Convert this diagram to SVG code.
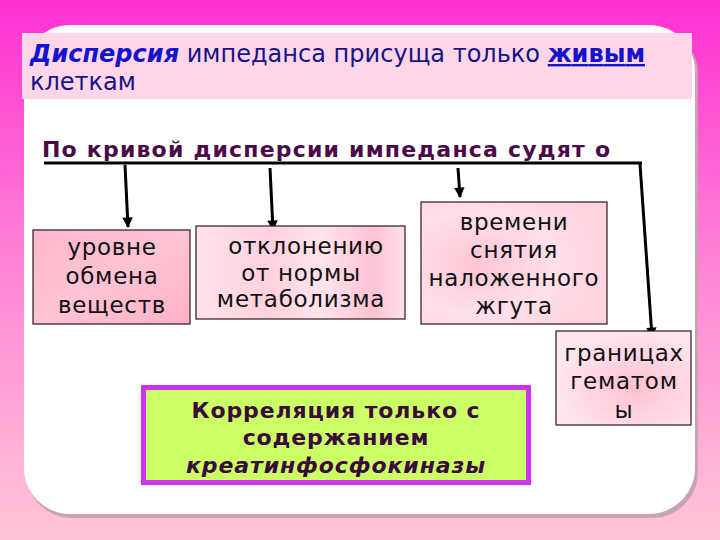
<svg xmlns="http://www.w3.org/2000/svg" width="720" height="540" viewBox="0 0 720 540">
<defs>
<linearGradient id="bg" x1="0" y1="0" x2="0" y2="1">
<stop offset="0" stop-color="#ff2fd2"/>
<stop offset="0.45" stop-color="#ff7ed6"/>
<stop offset="1" stop-color="#ffc6d6"/>
</linearGradient>
<linearGradient id="pk1" x1="0" y1="0" x2="1" y2="1">
<stop offset="0" stop-color="#ffb6ca"/>
<stop offset="0.5" stop-color="#ffc4d4"/>
<stop offset="1" stop-color="#ffb0c6"/>
</linearGradient>
<linearGradient id="pk2" x1="0" y1="0" x2="1" y2="0">
<stop offset="0" stop-color="#ffe2ea"/>
<stop offset="0.35" stop-color="#ffd0de"/>
<stop offset="0.6" stop-color="#ffe4ec"/>
<stop offset="0.85" stop-color="#ffc2d4"/>
<stop offset="1" stop-color="#ffe0ea"/>
</linearGradient>
<radialGradient id="pk3" cx="0.3" cy="0.5" r="0.7">
<stop offset="0" stop-color="#ffc4d4"/>
<stop offset="0.6" stop-color="#ffe0ea"/>
<stop offset="1" stop-color="#ffd2de"/>
</radialGradient>
<radialGradient id="pk4" cx="0.6" cy="0.6" r="0.6">
<stop offset="0" stop-color="#ffc0d2"/>
<stop offset="1" stop-color="#ffe6ee"/>
</radialGradient>
<marker id="ah" viewBox="0 0 10 10" refX="9" refY="5" markerWidth="4.5" markerHeight="3.5" orient="auto" markerUnits="strokeWidth">
<path d="M0,0 L10,5 L0,10 z" fill="#000"/>
</marker>
</defs>
<style>
.box{stroke:#2a1a1a;stroke-width:1.2}
.bt{font-family:"DejaVu Sans",sans-serif;font-size:23px;fill:#111;text-anchor:middle;letter-spacing:0.7px}
.gt{font-family:"DejaVu Sans",sans-serif;font-size:22px;font-weight:bold;fill:#3a0a3a;text-anchor:middle;letter-spacing:0.9px}
.hd{font-family:"DejaVu Sans",sans-serif;font-size:24px;fill:#14148a}
.con{stroke:#000;stroke-width:3;fill:none}
</style>
<rect width="720" height="540" fill="url(#bg)"/>
<rect x="26" y="28" width="672" height="490" rx="46" fill="#c9a3b3"/>
<rect x="24" y="25" width="671" height="489" rx="46" fill="#ffffff"/>
<g id="header">
<rect x="22" y="33" width="670" height="66" fill="#ffd6e8"/>
<text class="hd" x="30" y="62" textLength="615" lengthAdjust="spacing"><tspan font-weight="bold" font-style="italic" fill="#1414cc">Дисперсия</tspan> импеданса присуща только <tspan font-weight="bold" fill="#1414cc" text-decoration="underline">живым</tspan></text>
<text class="hd" x="30" y="90">клеткам</text>
</g>
<g id="title">
<text x="42" y="157" font-family="DejaVu Sans, sans-serif" font-size="22" font-weight="bold" fill="#4a0a4a" textLength="568" lengthAdjust="spacing">По кривой дисперсии импеданса судят о</text>
</g>
<g id="connectors">
<line class="con" x1="44" y1="163" x2="642" y2="163"/>
<line class="con" x1="125" y1="165" x2="128" y2="227" marker-end="url(#ah)"/>
<line class="con" x1="270" y1="168" x2="273" y2="230" marker-end="url(#ah)"/>
<line class="con" x1="458" y1="168" x2="460" y2="197" marker-end="url(#ah)"/>
<line class="con" x1="640" y1="164" x2="652" y2="337" marker-end="url(#ah)"/>
</g>
<g id="n1">
<rect class="box" x="33" y="230" width="157" height="94" fill="url(#pk1)"/>
<text class="bt" x="112" y="255">уровне</text>
<text class="bt" x="112" y="284">обмена</text>
<text class="bt" x="112" y="313">веществ</text>
</g>
<g id="n2">
<rect class="box" x="196" y="226" width="209" height="93" fill="url(#pk2)"/>
<text class="bt" x="306" y="254">отклонению</text>
<text class="bt" x="301" y="281">от нормы</text>
<text class="bt" x="301" y="307">метаболизма</text>
</g>
<g id="n3">
<rect class="box" x="421" y="202" width="186" height="122" fill="url(#pk3)"/>
<text class="bt" x="514" y="230">времени</text>
<text class="bt" x="514" y="258">снятия</text>
<text class="bt" x="514" y="286">наложенного</text>
<text class="bt" x="514" y="314">жгута</text>
</g>
<g id="n4">
<rect class="box" x="556" y="331" width="135" height="94" fill="url(#pk4)"/>
<text class="bt" x="624" y="361">границах</text>
<text class="bt" x="624" y="389">гематом</text>
<text class="bt" x="624" y="418">ы</text>
</g>
<g id="n5">
<rect x="143.5" y="387.5" width="385" height="95" fill="#ccff66" stroke="#cc33ee" stroke-width="5"/>
<text class="gt" x="336" y="418">Корреляция только с</text>
<text class="gt" x="336" y="445">содержанием</text>
<text class="gt" x="336" y="473" font-style="italic">креатинфосфокиназы</text>
</g>
</svg>
